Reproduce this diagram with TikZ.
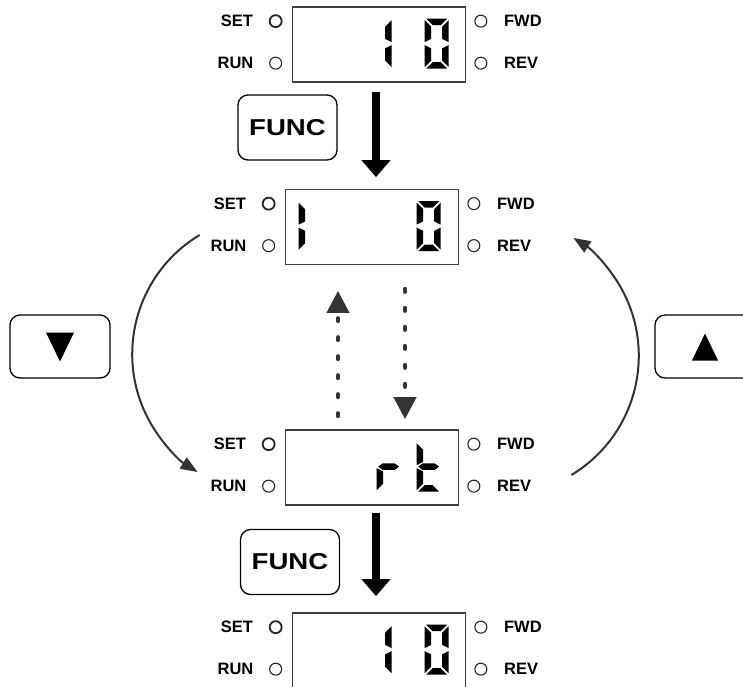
\documentclass[tikz,border=0pt]{standalone}
\usepackage{fontspec}
\setmainfont{Liberation Sans}
\usetikzlibrary{calc,arrows.meta}

% seven segment paths, digit cell 24 x 50
\newcommand{\segpatha}{(1.5,0) -- (22.5,0) -- (16,6.5) -- (8,6.5) -- cycle}
\newcommand{\segpathb}{(24,1.5) -- (24,23.5) -- (17.5,20.25) -- (17.5,8) -- cycle}
\newcommand{\segpathc}{(24,26.5) -- (24,48.5) -- (17.5,42) -- (17.5,29.75) -- cycle}
\newcommand{\segpathd}{(1.5,50) -- (22.5,50) -- (16,43.5) -- (8,43.5) -- cycle}
\newcommand{\segpathe}{(0,26.5) -- (0,48.5) -- (6.5,42) -- (6.5,29.75) -- cycle}
\newcommand{\segpathf}{(0,1.5) -- (0,23.5) -- (6.5,20.25) -- (6.5,8) -- cycle}
\newcommand{\segpathg}{(1.5,25) -- (6,21.75) -- (18,21.75) -- (22.5,25) -- (18,28.25) -- (6,28.25) -- cycle}

\tikzset{
  pics/lcd/.style = {code = {\foreach \s in {#1} {\expandafter\fill\csname segpath\s\endcsname;}}}
}

\begin{document}
\begin{tikzpicture}[x=1pt, y=-1pt,
	lcd box/.style = {draw=black!75, line width=1.7pt,
                   minimum width=173pt, minimum height=75pt, inner sep=0pt},
	lamp/.style = {draw=black!85, circle, line width=1.1pt,
                   minimum size=12pt, inner sep=0pt},
	set lamp/.style = {lamp, line width=1.8pt},
	keypad/.style = {draw, line width=1.3pt, rounded corners=10pt,
                   minimum width=99pt, minimum height=65pt, inner sep=0pt,
                   font=\bfseries\fontsize{23}{23}\selectfont},
	push/.style = {line width=8pt, -{Triangle[width=28pt,length=17pt]}},
	dotted arrow/.style = {draw=black!80, line width=4pt, line cap=round,
                   dash pattern=on 3pt off 16pt, -{Triangle[width=22pt,length=22pt]}},
	swing/.style = {draw=black!80, line width=2pt, -{Triangle[width=13pt,length=17pt]}},
	label distance=15.5pt,
	every label/.style = {inner sep=0pt, font=\bfseries\fontsize{16.5}{16.5}\selectfont}
                   ]
\useasboundingbox (0,0) rectangle (743,686);

% displays
\node[lcd box] (disp1) at (379,44.5) {};
\node[lcd box] (disp2) at (372,227) {};
\node[lcd box] (disp3) at (372,467.5) {};
\node[lcd box] (disp4) at (379,650.5) {};

% lamps
\foreach \d in {1,...,4} {
	\node[set lamp, label=left:SET] (set\d) at ($(disp\d.north west)+(-16,15)$) {};
	\node[lamp, label=left:RUN] (run\d) at ($(disp\d.north west)+(-16,57)$) {};
	\node[lamp, label={[label distance=16.5pt]right:FWD}] (fwd\d) at ($(disp\d.north east)+(14.5,15)$) {};
	\node[lamp, label={[label distance=16.5pt]right:REV}] (rev\d) at ($(disp\d.north east)+(14.5,57)$) {};
}

% digits
\begin{scope}[shift={(disp1.north west)}]
	\pic at (76,12.5) {lcd={b,c}};
	\pic at (133,12.5) {lcd={a,b,c,d,e,f}};
\end{scope}
\begin{scope}[shift={(disp2.north west)}]
	\pic at (14,12.5) {lcd={e,f}};
	\pic at (132,12.5) {lcd={a,b,c,d,e,f}};
\end{scope}
\begin{scope}[shift={(disp3.north west)}]
	\pic at (92,12.5) {lcd={e,g}};
	\pic at (132,12.5) {lcd={d,e,f,g}};
\end{scope}
\begin{scope}[shift={(disp4.north west)}]
	\pic at (76,12.5) {lcd={b,c}};
	\pic at (133,12.5) {lcd={a,b,c,d,e,f}};
\end{scope}

% keys
\node[keypad] (func1) at (287.5,127.5) {\scalebox{1.2}[1]{FUNC}};
\node[keypad] (func2) at (290,562) {\scalebox{1.2}[1]{FUNC}};
\node[keypad, minimum width=100pt, minimum height=63pt] (down) at (60,346.5) {};
\node[keypad, minimum width=100pt, minimum height=63pt] (up) at (705,346.5) {};
\fill ([shift={(-14,-14)}]down.center) -- ([shift={(14,-14)}]down.center) -- ([shift={(0,15)}]down.center) -- cycle;
\fill ([shift={(0,-13)}]up.center) -- ([shift={(13,14)}]up.center) -- ([shift={(-13,14)}]up.center) -- cycle;

% arrows
\draw[push] ([shift={(-3,9)}]disp1.south) -- ([shift={(4,-11.5)}]disp2.north);
\draw[push] ([shift={(4,7)}]disp3.south) -- ([shift={(-3,-16)}]disp4.north);
\draw[dotted arrow] ([shift={(-34,-13)}]disp3.north) -- ([shift={(-34,25.5)}]disp2.south);
\draw[dotted arrow] ([shift={(33,23.5)}]disp2.south) -- ([shift={(33,-10)}]disp3.north);
\draw[swing] ([shift={(-85,8)}]disp2.west) arc[start angle=-121, end angle=-238, radius=139];
\draw[swing] ([shift={(112,7.5)}]disp3.east) arc[start angle=59, end angle=-58, radius=139];
\end{tikzpicture}
\end{document}
